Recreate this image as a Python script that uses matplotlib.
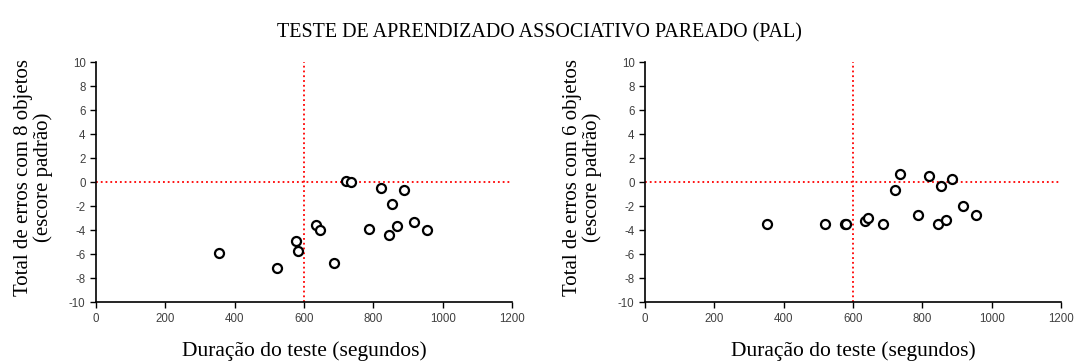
import matplotlib
matplotlib.use("Agg")
import matplotlib.pyplot as plt

# duração do teste (s) e escores padrão
duracao = [354, 521, 578, 582, 635, 646, 686, 722, 736, 788, 821, 844, 855, 869, 887, 917, 955]
erros_8 = [-5.87, -7.15, -4.93, -5.73, -3.55, -3.96, -6.76, 0.11, 0.03, -3.9, -0.47, -4.43, -1.83, -3.68, -0.64, -3.35, -4.02]

duracao_6 = [353, 519, 576, 581, 634, 644, 686, 722, 735, 787, 820, 844, 853, 869, 886, 916, 955]
erros_6 = [-3.49, -3.49, -3.49, -3.49, -3.27, -2.99, -3.49, -0.69, 0.66, -2.74, 0.55, -3.49, -0.36, -3.19, 0.25, -1.97, -2.74]

xticks = [0, 200, 400, 600, 800, 1000, 1200]
yticks = [-10, -8, -6, -4, -2, 0, 2, 4, 6, 8, 10]

plt.rcParams["axes.unicode_minus"] = False
serif = "Liberation Serif"
fig = plt.figure(figsize=(10.75, 3.64), dpi=100)
fig.text(0.502, 0.91, "TESTE DE APRENDIZADO ASSOCIATIVO PAREADO (PAL)",
         ha="center", va="center", fontsize=14.4, family=serif)

def painel(ax, x, y, rotulo):
    ax.axvline(600, color="red", ls=":", lw=1.3)
    ax.axhline(0, color="red", ls=":", lw=1.3)
    ax.plot(x, y, "o", mfc="white", mec="black", ms=6.5, mew=1.6, ls="none")
    ax.set_xlim(0, 1200)
    ax.set_ylim(-10, 10)
    ax.set_xticks(xticks)
    ax.set_yticks(yticks)
    ax.spines["top"].set_visible(False)
    ax.spines["right"].set_visible(False)
    ax.spines["left"].set_linewidth(1.2)
    ax.spines["bottom"].set_linewidth(1.2)
    ax.tick_params(labelsize=8.3, length=4, width=1, colors="black", labelcolor="#404040")
    for t in ax.get_xticklabels() + ax.get_yticklabels():
        t.set_family("Liberation Sans")
    ax.set_xlabel("Duração do teste (segundos)", family=serif, fontsize=15.5, labelpad=12)
    ax.set_ylabel(rotulo, family=serif, fontsize=15, linespacing=1.0)
    ax.yaxis.set_label_coords(-0.104, 0.52)

ax1 = fig.add_axes([0.0893, 0.170, 0.387, 0.659])
ax2 = fig.add_axes([0.600, 0.170, 0.387, 0.659])
painel(ax1, duracao, erros_8, "Total de erros com 8 objetos\n(escore padrão)")
painel(ax2, duracao_6, erros_6, "Total de erros com 6 objetos\n(escore padrão)")

fig.savefig("out.png", dpi=100)
